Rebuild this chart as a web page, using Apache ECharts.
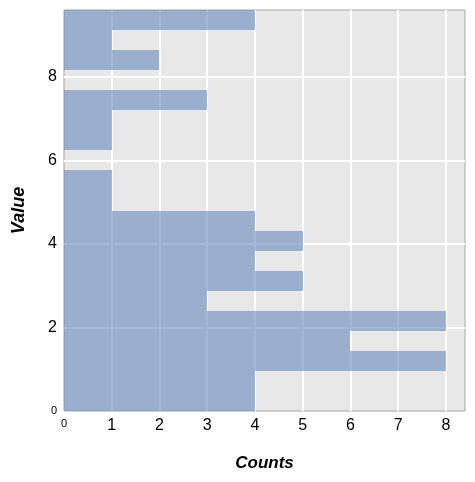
<!DOCTYPE html>
<html>
<head>
<meta charset="utf-8">
<script src="https://cdn.jsdelivr.net/npm/echarts@6/dist/echarts.min.js"></script>
<style>
    html, body { margin: 0; padding: 0; background: #fff; }
    #main { width: 475px; height: 482px; }
</style>
</head>
<body>
<div id="main"></div>
<script>
// bin lower/upper edges on the Value axis
var binStart = [0, 0.48, 0.96, 1.44, 1.92, 2.4, 2.88, 3.36, 3.84, 4.32,
                4.8, 5.28, 5.76, 6.24, 6.72, 7.2, 7.68, 8.16, 8.64, 9.12];
var binEnd   = [0.48, 0.96, 1.44, 1.92, 2.4, 2.88, 3.36, 3.84, 4.32, 4.8,
                5.28, 5.76, 6.24, 6.72, 7.2, 7.68, 8.16, 8.64, 9.12, 9.6];
var counts   = [4, 4, 8, 6, 8, 3, 5, 4, 5, 4,
                1, 1, 0, 1, 1, 3, 0, 2, 1, 4];

var data = [];
for (var i = 0; i < counts.length; i++) {
    data.push([binStart[i], binEnd[i], counts[i]]);
}

var chart = echarts.init(document.getElementById('main'));
var font = 'Liberation Sans, Arial, sans-serif';

function zeroSmall(v) {
    return v === 0 ? '{s|0}' : String(v);
}

var option = {
    animation: false,
    grid: {
        left: 64, right: 10, top: 10, bottom: 71,
        show: true,
        backgroundColor: '#e8e8e8',
        borderColor: '#a8a8a8',
        borderWidth: 1
    },
    xAxis: {
        type: 'value',
        min: 0, max: 8.4, interval: 1,
        name: 'Counts',
        nameLocation: 'middle',
        nameGap: 44,
        nameTextStyle: { fontFamily: font, fontSize: 17, fontWeight: 'bold', fontStyle: 'italic', color: '#000' },
        axisLine: { show: false },
        axisTick: { show: false },
        splitLine: { showMinLine: false, showMaxLine: false, lineStyle: { color: '#ffffff', width: 2 } },
        axisLabel: {
            showMaxLabel: false,
            margin: 7,
            fontFamily: font, fontSize: 16, color: '#000',
            formatter: zeroSmall,
            rich: { s: { fontSize: 11, fontFamily: font, color: '#000', padding: [0, 0, 4, 0] } }
        }
    },
    yAxis: {
        type: 'value',
        min: 0, max: 9.6, interval: 2,
        name: 'Value',
        nameLocation: 'middle',
        nameGap: 36,
        nameRotate: 90,
        nameTextStyle: { fontFamily: font, fontSize: 18, fontWeight: 'bold', fontStyle: 'italic', color: '#000' },
        axisLine: { show: false },
        axisTick: { show: false },
        splitLine: { showMinLine: false, showMaxLine: false, lineStyle: { color: '#ffffff', width: 2 } },
        axisLabel: {
            showMaxLabel: false,
            margin: 7,
            fontFamily: font, fontSize: 16, color: '#000',
            formatter: zeroSmall,
            rich: { s: { fontSize: 11, fontFamily: font, color: '#000' } }
        }
    },
    series: [{
        type: 'custom',
        data: data,
        z: 2,
        renderItem: function (params, api) {
            var lo = api.coord([0, api.value(0)]);
            var hi = api.coord([api.value(2), api.value(1)]);
            // snap to whole pixels so adjacent bins do not leave seams
            var x0 = Math.round(lo[0]), x1 = Math.round(hi[0]);
            var y0 = Math.round(lo[1]), y1 = Math.round(hi[1]);
            return {
                type: 'rect',
                shape: { x: x0, y: y1, width: x1 - x0, height: y0 - y1 },
                style: { fill: 'rgba(102,137,189,0.6)' }
            };
        }
    }]
};

chart.setOption(option);
</script>
</body>
</html>
